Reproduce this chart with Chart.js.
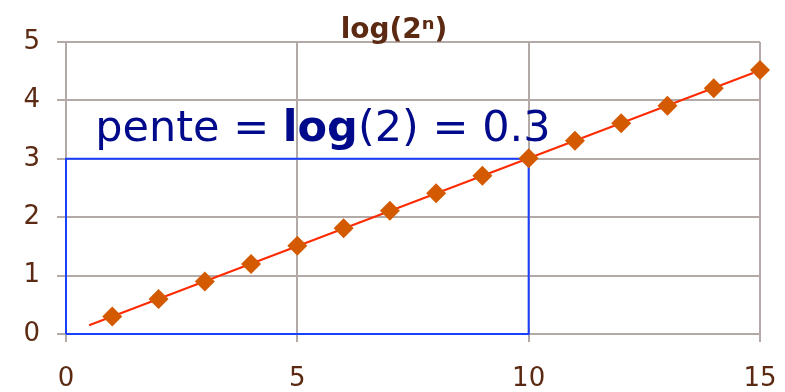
<!DOCTYPE html>
<html>
<head>
<meta charset="utf-8">
<script src="https://cdn.jsdelivr.net/npm/chart.js@4"></script>
<style>
    html, body { margin: 0; padding: 0; background: #fff; }
    #wrap { width: 785px; height: 392px; }
</style>
</head>
<body>
<div id="wrap"><canvas id="logChart" width="785" height="392"></canvas></div>
<script>
// n and log(2^n)
const nValues = [1, 2, 3, 4, 5, 6, 7, 8, 9, 10, 11, 12, 13, 14, 15];
const logValues = [0.30, 0.60, 0.90, 1.20, 1.51, 1.81, 2.11, 2.41, 2.71, 3.01, 3.31, 3.61, 3.91, 4.21, 4.52];

// linear trend line ends
const trendX = [0.5, 14.85];
const trendY = [0.15, 4.47];

// slope box: run 10, rise 3
const boxX = [0, 0, 10, 10, 0];
const boxY = [0, 3, 3, 0, 0];

const xTicks = [0, 5, 10, 15];
const yTicks = [0, 1, 2, 3, 4, 5];

const brown = '#5c2a12';
const gridColor = '#b3aaa7';

function toPoints(xs, ys) {
    return xs.map((x, i) => ({ x: x, y: ys[i] }));
}

// title and the slope caption
const textPlugin = {
    id: 'textPlugin',
    afterDraw(chart) {
        const ctx = chart.ctx;
        const xs = chart.scales.x;
        const ys = chart.scales.y;
        ctx.save();

        ctx.fillStyle = brown;
        ctx.font = 'bold 28px "DejaVu Sans"';
        ctx.textAlign = 'center';
        ctx.textBaseline = 'alphabetic';
        ctx.fillText('log(2ⁿ)', 394, 38);

        // "pente = log(2) = 0.3" with log in bold
        let px = xs.getPixelForValue(0.63);
        let py = ys.getPixelForValue(3.3);
        ctx.textAlign = 'left';
        ctx.fillStyle = '#000a8a';
        const parts = [
            ['pente = ', 'normal'],
            ['log', 'bold'],
            ['(2) = 0.3', 'normal']
        ];
        parts.forEach(([txt, weight]) => {
            ctx.font = weight + ' 43px "DejaVu Sans"';
            ctx.fillText(txt, px, py);
            px += ctx.measureText(txt).width;
        });
        ctx.restore();
    }
};

const ctx = document.getElementById('logChart').getContext('2d');
new Chart(ctx, {
    type: 'scatter',
    data: {
        datasets: [
            {
                data: toPoints(nValues, logValues),
                pointStyle: 'rectRot',
                pointRadius: 10,
                backgroundColor: '#d35a00',
                borderColor: '#d35a00',
                borderWidth: 0,
                showLine: false,
                clip: false,
                order: 0
            },
            {
                data: toPoints(trendX, trendY),
                showLine: true,
                borderColor: '#ff2a00',
                borderWidth: 2,
                pointRadius: 0,
                order: 1
            },
            {
                data: toPoints(boxX, boxY),
                showLine: true,
                borderColor: '#1a40ff',
                borderWidth: 2,
                pointRadius: 0,
                clip: false,
                order: 2
            }
        ]
    },
    options: {
        responsive: false,
        animation: false,
        layout: { padding: { top: 42, right: 25, left: 0, bottom: 0 } },
        plugins: {
            legend: { display: false },
            tooltip: { enabled: false }
        },
        scales: {
            x: {
                type: 'linear',
                min: 0,
                max: 15,
                afterBuildTicks: s => { s.ticks = xTicks.map(v => ({ value: v })); },
                afterFit: s => {
                    s.height = 58;
                    s.paddingLeft = 0;
                    s.paddingRight = 0;
                },
                grid: { color: gridColor, lineWidth: 2, tickLength: 8 },
                border: { display: false },
                ticks: {
                    color: brown,
                    padding: 22,
                    font: { family: 'DejaVu Sans', size: 26 }
                }
            },
            y: {
                type: 'linear',
                min: 0,
                max: 5,
                afterBuildTicks: s => { s.ticks = yTicks.map(v => ({ value: v })); },
                afterFit: s => { s.width = 66; },
                grid: { color: gridColor, lineWidth: 2, tickLength: 9 },
                border: { display: false },
                ticks: {
                    color: brown,
                    padding: 17,
                    font: { family: 'DejaVu Sans', size: 26 }
                }
            }
        }
    },
    plugins: [textPlugin]
});
</script>
</body>
</html>
